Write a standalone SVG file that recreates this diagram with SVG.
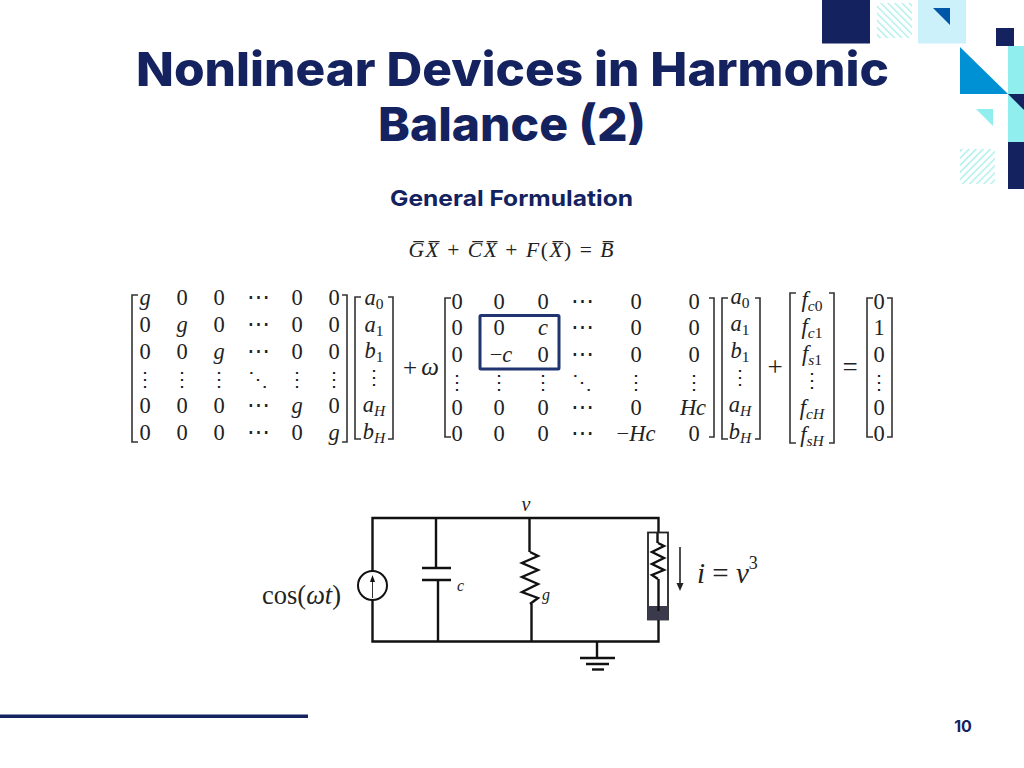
<svg xmlns="http://www.w3.org/2000/svg" width="1024" height="768" viewBox="0 0 1024 768">
<style>
.t{font-family:"Inter","Liberation Sans",sans-serif;font-weight:800;fill:#14225f;text-anchor:middle}
.m{font-family:"Liberation Serif",serif;font-size:22.500px;fill:#222;text-anchor:middle}
.i{font-style:italic}
.s{font-size:15.500px}
.d{font-family:"Liberation Serif",serif;font-size:20px;fill:#222;text-anchor:middle}
.b{fill:none;stroke:#333;stroke-width:1.6}
.w{fill:none;stroke:#111;stroke-width:2.4}
.c{font-family:"Liberation Serif",serif;fill:#222}
</style>
<defs>
<pattern id="h1" width="5" height="5" patternUnits="userSpaceOnUse" patternTransform="rotate(-45)"><rect width="5" height="5" fill="#fff"/><rect width="1.300" height="5" fill="#a5eeea"/></pattern>
<pattern id="h2" width="5" height="5" patternUnits="userSpaceOnUse" patternTransform="rotate(45)"><rect width="5" height="5" fill="#fff"/><rect width="1.300" height="5" fill="#a5eeea"/></pattern>
</defs>
<rect width="1024" height="768" fill="#fff"/>
<g id="decor">
<rect x="822" y="0" width="48" height="43.500" fill="#14225f"/>
<rect x="877" y="3" width="35" height="35" fill="url(#h1)"/>
<rect x="918" y="0" width="48" height="43.500" fill="#cdf1fb"/>
<polygon points="933,8 950,8 950,25" fill="#0057a8"/>
<rect x="996" y="28" width="18" height="18" fill="#14225f"/>
<polygon points="960,47 960,94 1008,94" fill="#0091d5"/>
<rect x="1008" y="46" width="16" height="96" fill="#90eeee"/>
<polygon points="1008,94 1024,94 1024,110" fill="#14225f"/>
<rect x="1008" y="142" width="16" height="47" fill="#14225f"/>
<polygon points="976,109 993,109 993,126" fill="#90eeee"/>
<rect x="960" y="149" width="35" height="35" fill="url(#h2)"/>
<rect x="0" y="714.500" width="308" height="3.500" fill="#14225f"/>
</g>
<g id="title">
<text class="t" x="512.500" y="86" font-size="47" textLength="753" lengthAdjust="spacingAndGlyphs">Nonlinear Devices in Harmonic</text>
<text class="t" x="512" y="141" font-size="47" textLength="268" lengthAdjust="spacingAndGlyphs">Balance (2)</text>
<text class="t" x="511.500" y="206" font-size="22" style="font-weight:700" textLength="243" lengthAdjust="spacingAndGlyphs">General Formulation</text>
<text class="t" x="963" y="732" font-size="16" style="font-weight:700">10</text>
</g>
<g id="equation">
<text class="m" x="511" y="257" style="font-size:21.500px" textLength="205"><tspan class="i">G̅X̅</tspan> + <tspan class="i">C̅X̅</tspan> + <tspan class="i">F</tspan>(<tspan class="i">X̅</tspan>) = <tspan class="i">B̅</tspan></text>
</g>
<g id="matrix-g">
<path class="b" d="M138 295H132V442H138M342 295H347V442H342"/>
<text class="m i" x="145" y="305">g</text><text class="m" x="182" y="305">0</text><text class="m" x="219" y="305">0</text><text class="m" x="258" y="304">⋯</text><text class="m" x="297" y="305">0</text><text class="m" x="334" y="305">0</text>
<text class="m" x="145" y="332">0</text><text class="m i" x="182" y="332">g</text><text class="m" x="219" y="332">0</text><text class="m" x="258" y="331">⋯</text><text class="m" x="297" y="332">0</text><text class="m" x="334" y="332">0</text>
<text class="m" x="145" y="359">0</text><text class="m" x="182" y="359">0</text><text class="m i" x="219" y="359">g</text><text class="m" x="258" y="358">⋯</text><text class="m" x="297" y="359">0</text><text class="m" x="334" y="359">0</text>
<text class="d" x="145" y="386">⋮</text><text class="d" x="182" y="386">⋮</text><text class="d" x="219" y="386">⋮</text><text class="d" x="258" y="386">⋱</text><text class="d" x="297" y="386">⋮</text><text class="d" x="334" y="386">⋮</text>
<text class="m" x="145" y="413">0</text><text class="m" x="182" y="413">0</text><text class="m" x="219" y="413">0</text><text class="m" x="258" y="412">⋯</text><text class="m i" x="297" y="413">g</text><text class="m" x="334" y="413">0</text>
<text class="m" x="145" y="440">0</text><text class="m" x="182" y="440">0</text><text class="m" x="219" y="440">0</text><text class="m" x="258" y="439">⋯</text><text class="m" x="297" y="440">0</text><text class="m i" x="334" y="440">g</text>
</g>
<g id="vector-a1">
<path class="b" d="M361 297H355V439H361M388 297H393V439H388"/>
<text class="m i" x="374" y="305">a<tspan class="s" dy="4" font-style="normal">0</tspan></text>
<text class="m i" x="374" y="332">a<tspan class="s" dy="4" font-style="normal">1</tspan></text>
<text class="m i" x="374" y="358">b<tspan class="s" dy="4" font-style="normal">1</tspan></text>
<text class="d" x="374" y="384">⋮</text>
<text class="m i" x="374" y="412">a<tspan class="s" dy="4">H</tspan></text>
<text class="m i" x="374" y="439">b<tspan class="s" dy="4">H</tspan></text>
</g>
<g id="plus-omega">
<text class="m" x="410" y="376" style="font-size:25px">+</text>
<text class="m i" x="430" y="375" style="font-size:25px">ω</text>
</g>
<g id="matrix-c">
<path class="b" d="M451 298H445V437H451M709 298H714V437H709"/>
<text class="m" x="457" y="309">0</text><text class="m" x="499" y="309">0</text><text class="m" x="543" y="309">0</text><text class="m" x="582" y="308">⋯</text><text class="m" x="636" y="309">0</text><text class="m" x="694" y="309">0</text>
<text class="m" x="457" y="335">0</text><text class="m" x="499" y="335">0</text><text class="m i" x="543" y="335">c</text><text class="m" x="582" y="334">⋯</text><text class="m" x="636" y="335">0</text><text class="m" x="694" y="335">0</text>
<text class="m" x="457" y="362">0</text><text class="m" x="501" y="362">−<tspan class="i">c</tspan></text><text class="m" x="543" y="362">0</text><text class="m" x="582" y="361">⋯</text><text class="m" x="636" y="362">0</text><text class="m" x="694" y="362">0</text>
<text class="d" x="457" y="389">⋮</text><text class="d" x="499" y="389">⋮</text><text class="d" x="543" y="389">⋮</text><text class="d" x="582" y="389">⋱</text><text class="d" x="636" y="389">⋮</text><text class="d" x="694" y="389">⋮</text>
<text class="m" x="457" y="415">0</text><text class="m" x="499" y="415">0</text><text class="m" x="543" y="415">0</text><text class="m" x="582" y="414">⋯</text><text class="m" x="636" y="415">0</text><text class="m i" x="693" y="415">Hc</text>
<text class="m" x="457" y="441">0</text><text class="m" x="499" y="441">0</text><text class="m" x="543" y="441">0</text><text class="m" x="582" y="440">⋯</text><text class="m" x="636" y="441">−<tspan class="i">Hc</tspan></text><text class="m" x="694" y="441">0</text>
<rect x="480" y="315.500" width="79" height="53.500" rx="1" fill="none" stroke="#1f3470" stroke-width="3"/>
</g>
<g id="vector-a2">
<path class="b" d="M728 298H722V439H728M755 298H760V439H755"/>
<text class="m i" x="740" y="304">a<tspan class="s" dy="4" font-style="normal">0</tspan></text>
<text class="m i" x="740" y="331">a<tspan class="s" dy="4" font-style="normal">1</tspan></text>
<text class="m i" x="740" y="358">b<tspan class="s" dy="4" font-style="normal">1</tspan></text>
<text class="d" x="740" y="384">⋮</text>
<text class="m i" x="740" y="412">a<tspan class="s" dy="4">H</tspan></text>
<text class="m i" x="740" y="439">b<tspan class="s" dy="4">H</tspan></text>
</g>
<text class="m" x="775" y="376" style="font-size:27px">+</text>
<g id="vector-f">
<path class="b" d="M796 293H790V443H796M829 293H834V443H829"/>
<text class="m i" x="812" y="307">f<tspan class="s" dy="4">c</tspan><tspan class="s" font-style="normal">0</tspan></text>
<text class="m i" x="812" y="334">f<tspan class="s" dy="4">c</tspan><tspan class="s" font-style="normal">1</tspan></text>
<text class="m i" x="812" y="361">f<tspan class="s" dy="4">s</tspan><tspan class="s" font-style="normal">1</tspan></text>
<text class="d" x="812" y="387">⋮</text>
<text class="m i" x="812" y="415">f<tspan class="s" dy="4">cH</tspan></text>
<text class="m i" x="812" y="442">f<tspan class="s" dy="4">sH</tspan></text>
</g>
<text class="m" x="850" y="376" style="font-size:27px">=</text>
<g id="vector-b">
<path class="b" d="M873 298H867V437H873M887 298H892V437H887"/>
<text class="m" x="879" y="309">0</text><text class="m" x="879" y="335">1</text><text class="m" x="879" y="362">0</text><text class="d" x="879" y="389">⋮</text><text class="m" x="879" y="415">0</text><text class="m" x="879" y="441">0</text>
</g>
<g id="connectors">
<path class="w" d="M372.500 571V518H658.500V533M372.500 600V641.500H658.500V620"/>
<path class="w" d="M436 518V568M438 580V641.500M529.500 518V552M531.500 604V641.500"/>
<path class="w" d="M657.500 533V543M658.500 579V610"/>
<path class="w" d="M597 641.500V657"/>
</g>
<g id="source">
<circle cx="372.500" cy="585.500" r="14.500" fill="#fff" stroke="#111" stroke-width="2"/>
<path d="M372.500 598V577" stroke="#333" stroke-width="1"/>
<polygon points="372.500,575 370,582 375,582" fill="#111"/>
</g>
<g id="capacitor">
<path class="w" d="M422 568H451M422 580H451"/>
</g>
<g id="resistor-g">
<path class="w" d="M530 552L538 556L522 563L538 570L522 577L538 584L522 592L538 598L530 604"/>
</g>
<g id="device">
<rect x="648" y="532.500" width="20" height="87" fill="none" stroke="#222" stroke-width="1.800"/>
<rect x="648" y="606" width="20" height="14" fill="#3a3a4c"/>
<path class="w" d="M658 543L664 546L652 552L664 558L652 564L664 570L652 575L658 579"/>
<path class="w" d="M658.500 606V611"/>
</g>
<g id="ground">
<path class="w" d="M580 658H615M586 664H609"/>
<path d="M592 669.500H604" stroke="#111" stroke-width="2.400"/>
</g>
<g id="arrow">
<path d="M680 547V586" stroke="#222" stroke-width="1.600"/>
<polygon points="680,591 676.500,583 683.500,583" fill="#222"/>
</g>
<g id="labels">
<text class="c" x="526" y="511" font-size="20" font-style="italic" text-anchor="middle">v</text>
<text class="c" x="457" y="591" font-size="16" font-style="italic">c</text>
<text class="c" x="542" y="600" font-size="16" font-style="italic">g</text>
<text class="c" x="262" y="604" font-size="26.500">cos(<tspan font-style="italic">ωt</tspan>)</text>
<text class="c" x="697" y="583" font-size="29"><tspan font-style="italic">i</tspan> = <tspan font-style="italic">v</tspan><tspan font-size="18" dy="-14">3</tspan></text>
</g>
</svg>
